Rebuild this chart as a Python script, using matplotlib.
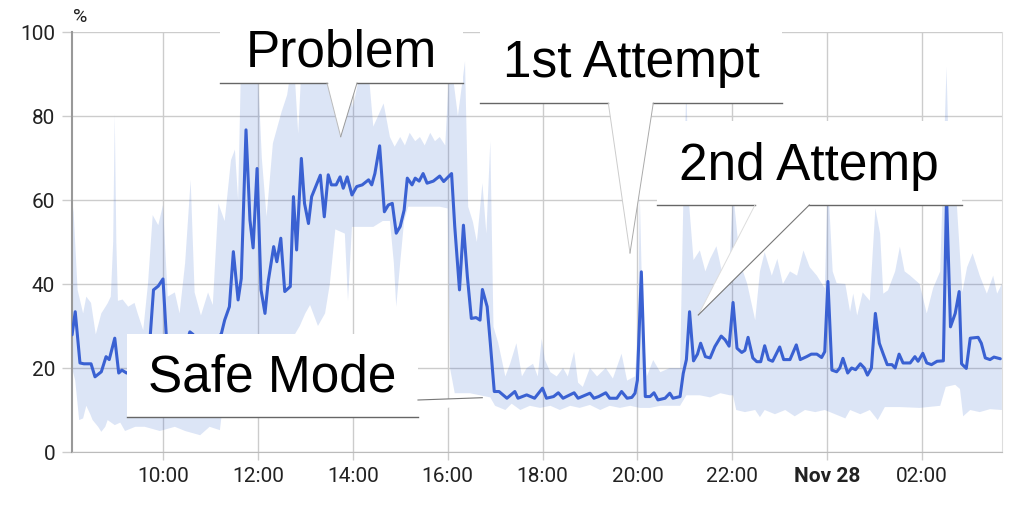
import matplotlib
matplotlib.use("Agg")
import matplotlib.pyplot as plt
from matplotlib.patches import Polygon, Rectangle
from matplotlib.lines import Line2D
import numpy as np

# ---------------- data (minutes after 08:00, values in %) ----------------
line_min = [5, 9, 15, 20, 29, 34, 42, 48, 52, 59,
            64, 68, 74, 85, 97, 104, 108, 114, 120, 125,
            135, 147, 154, 158, 167, 179, 190, 194, 198, 204,
            209, 215, 219, 225, 230, 234, 239, 244, 249, 253,
            260, 264, 269, 274, 281, 285, 289, 295, 299, 304,
            308, 314, 319, 324, 329, 333, 339, 344, 348, 353,
            359, 365, 372, 380, 384, 388, 394, 400, 405, 410,
            415, 420, 425, 429, 435, 439, 444, 449, 454, 462,
            470, 475, 485, 489, 495, 500, 505, 510, 516, 521,
            524, 530, 534, 539, 545, 555, 565, 569, 580, 590,
            600, 605, 614, 620, 626, 640, 645, 660, 665, 671,
            680, 685, 694, 700, 707, 713, 717, 720, 725, 730,
            736, 741, 746, 755, 761, 765, 774, 778, 782, 786,
            791, 796, 800, 806, 812, 818, 826, 831, 836, 841,
            846, 852, 856, 860, 866, 871, 876, 881, 886, 891,
            900, 905, 913, 921, 926, 934, 940, 947, 953, 957,
            961, 966, 972, 976, 980, 986, 991, 996, 1002, 1007,
            1011, 1016, 1021, 1026, 1031, 1036, 1042, 1046, 1051, 1056,
            1065, 1071, 1075, 1081, 1086, 1092, 1099, 1107, 1111, 1116,
            1122, 1127, 1130, 1136, 1141, 1151, 1155, 1160, 1166, 1171,
            1179]
line_val = [27.9, 33.4, 21.2, 21, 21, 17.9, 19.1, 22.7, 22, 27.1,
            18.8, 19.5, 18.8, 20, 21, 28, 38.6, 39.5, 41.2, 25,
            22, 24, 28.6, 28, 24, 25, 27, 28.3, 31.4, 34.6,
            47.7, 36.2, 41.3, 76.7, 55.2, 48.6, 67.5, 38.6, 33, 40.5,
            48.9, 45.3, 50.9, 38.2, 39.4, 60.8, 48.1, 69.9, 59.2, 54.4,
            60.8, 63.6, 65.9, 56, 66, 63.6, 63.6, 65.5, 62.8, 65.5,
            61.2, 63.2, 63.6, 64.8, 63.6, 66.3, 72.9, 57.2, 58.8, 59.2,
            52.1, 53.7, 57.6, 65.2, 63.6, 65.2, 64.5, 66.3, 64, 64.5,
            65.7, 64.4, 66.3, 53.7, 38.6, 54, 41.7, 31.8, 32, 31.4,
            38.7, 34.6, 25.9, 14.4, 14.4, 12.8, 14.4, 12.8, 13.6, 12.8,
            15.2, 12.8, 13.2, 14.1, 12.8, 14.1, 12.8, 14, 12.8, 13.2,
            14.1, 12.8, 12.8, 14.4, 12.8, 13, 14, 17.1, 42.9, 13.2,
            13.2, 14.1, 12.4, 12.8, 14, 12.8, 13.2, 18.7, 22, 33.4,
            21.7, 23.3, 25.9, 22.7, 22.4, 25.1, 27.6, 26.7, 25.2, 35.6,
            24.7, 23.7, 24.2, 27.3, 22.4, 21.5, 21.5, 25.3, 22, 21.6,
            25, 22, 22, 25.5, 22, 22.7, 23.3, 23.3, 22.5, 23.9,
            40.6, 19.5, 19.1, 20, 22.3, 18.8, 20, 19.6, 21, 20,
            18.3, 20, 33, 25.9, 23.3, 20.8, 20.8, 20, 23.3, 21.2,
            21.2, 22.7, 21.6, 23.5, 21.2, 20.8, 21.6, 21.7, 61, 29.8,
            33, 38.2, 21, 19.9, 27.1, 27.3, 25.9, 22.4, 22, 22.6,
            22.2]

hi_min = [5, 7, 12, 19, 23, 29, 35, 42, 50, 54, 57, 59, 61, 63, 69, 76, 84, 88, 95,
          101, 107, 114, 120, 126, 135, 141, 148, 155, 160, 168, 177, 183, 190, 198,
          206, 211, 215, 219, 239, 245, 251, 259, 270, 277, 285, 291, 296, 350, 360,
          369, 378, 386, 392, 399, 407, 413, 420, 426, 432, 439, 445, 451, 458, 464,
          470, 477, 483, 493, 502, 506, 512, 517, 524, 529, 534, 538, 544, 553, 559,
          567, 574, 580, 588, 594, 599, 603, 610, 618, 626, 632, 640, 645, 651, 660,
          669, 680, 689, 700, 707, 717, 721, 723, 727, 732, 740, 749, 761, 774, 778,
          782, 785, 791, 799, 806, 812, 820, 828, 837, 841, 850, 859, 869, 875, 881,
          890, 897, 904, 913, 922, 930, 938, 947, 957, 961, 967, 972, 983, 989, 993,
          998, 1005, 1014, 1021, 1027, 1031, 1037, 1046, 1052, 1058, 1065, 1071, 1077,
          1086, 1094, 1103, 1111, 1115, 1123, 1127, 1131, 1137, 1144, 1153, 1162, 1170,
          1175, 1181]
hi_val = [60, 57, 38.6, 33, 37, 35.5, 28, 33, 35.4, 37, 50, 80.6, 50, 36, 36.3, 34.6, 35.5, 33, 29,
          40, 56.4, 54, 58.8, 37, 38, 33, 45, 64.8, 38, 32.5, 38, 35, 59.2, 55,
          69.5, 72, 60, 95, 95, 70, 56, 73.5, 81, 85, 95, 75.8, 95, 95, 82,
          90, 95, 77.5, 80, 83, 75, 72.7, 75, 73, 76, 74, 75, 73, 76, 74,
          75, 73, 95, 80, 93, 58.4, 54.8, 50, 64, 52, 74, 29.8, 26, 18, 21,
          25.9, 18, 20, 21, 18, 27, 22, 19, 18, 20, 18, 23.9, 16.5, 15.5, 20,
          18, 20, 17.5, 23.4, 17, 18, 30, 61.6, 30, 18, 21.9, 19, 20, 20, 58.4,
          88, 60, 45.7, 48, 43, 46, 49, 42, 47, 62, 45, 40, 31.4, 43, 47.6,
          42, 46, 40, 43, 42, 48, 44, 42, 39, 65, 43, 40.2, 40, 33.4, 37.7,
          32.5, 38, 36, 58, 52, 37.7, 38.5, 43, 48.9, 43, 42, 41, 40,
          33, 39, 43, 91.7, 62, 62, 50, 38, 44, 47.3, 42, 37.7, 42,
          37.7, 40]

lo_min = [5, 9, 14, 19, 23, 28, 31, 38, 42, 47, 50, 59, 66, 72, 85, 97, 116, 135, 148,
          167, 179, 192, 198, 217, 243, 268, 293, 300, 306, 316, 325, 331, 338, 350,
          354, 359, 369, 386, 398, 407, 412, 415, 420, 425, 430, 445, 470, 480, 483,
          489, 508, 534, 540, 553, 561, 572, 584, 597, 610, 622, 635, 647, 660, 673,
          685, 698, 711, 723, 736, 749, 761, 774, 782, 799, 812, 825, 837, 841, 845,
          856, 869, 875, 881, 894, 907, 919, 932, 945, 957, 970, 983, 989, 1002, 1014,
          1024, 1033, 1052, 1077, 1103, 1110, 1122, 1128, 1132, 1141, 1153, 1166, 1181]
lo_val = [20, 17, 7.6, 8, 11, 9, 7.6, 6, 4.8, 6, 7.6, 6.4, 7, 5, 6, 6, 5, 6, 5,
          4, 6, 5.2, 15, 22, 25, 22, 30, 33, 35, 30, 33, 40, 53, 52,
          36, 53.6, 53.6, 53.6, 55, 55, 45, 34.6, 45, 55, 58.4, 58.4, 58.4, 58, 20,
          14, 14, 13, 11, 10, 11.5, 10, 11, 10.5, 11, 10, 11, 10.5, 11.2, 10,
          11, 10.5, 11, 10.5, 10.5, 11, 11, 11, 13.5, 13.5, 13, 14, 13.5, 13.5, 10,
          9.5, 10, 8.3, 10, 9, 10, 8.5, 10, 9.5, 10, 9, 8, 10, 9, 10,
          7.6, 10.7, 10.7, 10.5, 11, 15.5, 16, 15, 8.5, 10, 9.5, 10.2, 10]

x_tick_hours = [10, 12, 14, 16, 18, 20, 22, 24, 26]
x_tick_labels = ["10:00", "12:00", "14:00", "16:00", "18:00", "20:00", "22:00", "Nov 28", "02:00"]
y_ticks = [0, 20, 40, 60, 80, 100]

callout_texts = ["Problem", "1st Attempt", "2nd Attemp", "Safe Mode"]

# ---------------- figure ----------------
W, H = 1024, 515
fig = plt.figure(figsize=(W / 100, H / 100), dpi=100)
fig.patch.set_facecolor("white")


def P(x, y):
    return (x / W, 1 - y / H)


ax = fig.add_axes([72 / W, 1 - 452 / H, 930 / W, 420 / H])

to_h = lambda m: 8 + np.asarray(m, dtype=float) / 60.0

band_x = np.concatenate([to_h(hi_min), to_h(lo_min)[::-1]])
band_y = np.concatenate([np.asarray(hi_val), np.asarray(lo_val)[::-1]])
ax.fill(band_x, band_y, color="#3366cc", alpha=0.17, lw=0, zorder=2)
ax.plot(to_h(line_min), line_val, color="#3a61d2", lw=2.2, zorder=3,
        solid_joinstyle="round", solid_capstyle="round")

ax.set_xlim(8.082, 27.686)
ax.set_ylim(0, 100)
ax.set_xticks(x_tick_hours)
ax.set_xticklabels(x_tick_labels)
ax.set_yticks(y_ticks)
ax.grid(True, color="#cccccc", lw=1, zorder=0)
ax.set_axisbelow(True)
ax.tick_params(axis="y", length=7.2, width=1, color="#cccccc", pad=5,
               labelsize=15, labelcolor="#222222")
ax.tick_params(axis="x", length=5.8, width=1, color="#cccccc", pad=5,
               labelsize=15, labelcolor="#222222")
for lab in ax.get_xticklabels() + ax.get_yticklabels():
    lab.set_fontfamily("Roboto")
for lab in ax.get_xticklabels():
    if lab.get_text() == "Nov 28":
        lab.set_fontweight("bold")
ax.spines["top"].set_visible(False)
ax.spines["left"].set_color("#999999")
ax.spines["left"].set_linewidth(1.5)
ax.spines["bottom"].set_color("#bbbbbb")
ax.spines["right"].set_color("#dddddd")

fig.text(*P(72.5, 21.5), "%", fontsize=14, family="Roboto", color="#222222",
         ha="left", va="baseline")


# ---------------- callouts (pixel layout) ----------------
def callout(rect, tri, text, tx, ty, edges):
    x0, y0, x1, y1 = rect
    fig.patches.append(Rectangle(P(x0, y1), (x1 - x0) / W, (y1 - y0) / H,
                                 transform=fig.transFigure, facecolor="white",
                                 edgecolor="none", zorder=5))
    fig.patches.append(Polygon([P(*p) for p in tri], closed=True,
                               transform=fig.transFigure, facecolor="white",
                               edgecolor="none", zorder=5))
    for (a, b, c, lw) in edges:
        xs, ys = zip(P(*a), P(*b))
        fig.lines.append(Line2D(xs, ys, transform=fig.transFigure, color=c,
                                lw=lw, zorder=6))
    fig.text(*P(tx, ty), text, fontsize=37, family="Liberation Sans",
             color="black", ha="center", va="baseline", zorder=7)


callout((220, 0, 463, 83), [(327, 83), (357, 83), (340.7, 136.7)],
        callout_texts[0], 341.7, 66.7,
        [((220, 83), (327, 83), "#666666", 1.0), ((357, 83), (463, 83), "#666666", 1.0),
         ((327, 83), (340.7, 136.7), "#bbbbbb", 0.7), ((357, 83), (340.7, 136.7), "#999999", 0.7)])

callout((480, 0, 782, 103), [(608.3, 103), (653.3, 103), (630, 253)],
        callout_texts[1], 631.7, 77,
        [((480, 103), (608.3, 103), "#666666", 1.0), ((653.3, 103), (782, 103), "#666666", 1.0),
         ((608.3, 103), (630, 253), "#cccccc", 0.7), ((653.3, 103), (630, 253), "#aaaaaa", 0.7)])

callout((657, 121, 962, 205), [(755, 205), (809.3, 205), (698.3, 315)],
        callout_texts[2], 808.7, 180,
        [((657, 205), (755, 205), "#666666", 1.0), ((809.3, 205), (962, 205), "#666666", 1.0),
         ((755, 205), (698.3, 315), "#dddddd", 0.7), ((809.3, 205), (698.3, 315), "#777777", 0.8)])

callout((127, 334, 418, 417), [(417, 400), (482.3, 397.7), (417, 417)],
        callout_texts[3], 272, 391.7,
        [((127, 417), (418, 417), "#666666", 1.0),
         ((418, 400), (482.3, 397.7), "#777777", 0.8)])

fig.savefig("out.png", dpi=100, facecolor="white")
